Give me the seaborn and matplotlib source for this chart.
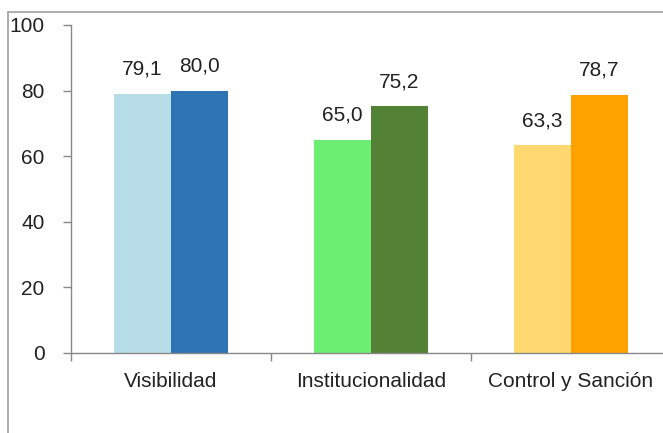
import matplotlib
matplotlib.use("Agg")
import matplotlib.pyplot as plt
import seaborn as sns
import pandas as pd
from matplotlib.lines import Line2D

categories = ["Visibilidad", "Institucionalidad", "Control y Sanción"]
series = ["A", "B"]
values_a = [79.1, 65.0, 63.3]
values_b = [80.0, 75.2, 78.7]
colors_a = ["#B7DDE8", "#6CEE72", "#FFD96F"]
colors_b = ["#2E74B5", "#538135", "#FFA200"]
yticks = [0, 20, 40, 60, 80, 100]

df = pd.DataFrame({
    "cat": categories * 2,
    "serie": [series[0]] * 3 + [series[1]] * 3,
    "val": values_a + values_b,
})

sns.set_theme(style="white")
plt.rcParams["font.family"] = ["Liberation Sans", "DejaVu Sans"]

FS = 15
TC = "#222222"

fig = plt.figure(figsize=(6.63, 4.33), dpi=100)
ax = fig.add_axes([71 / 663, 1 - 353 / 433, 600 / 663, 328 / 433])

sns.barplot(data=df, x="cat", y="val", hue="serie", order=categories,
            hue_order=series, width=0.57, ax=ax, legend=False,
            palette=["#cccccc", "#999999"], saturation=1)

bar_colors = colors_a + colors_b
bar_vals = values_a + values_b
for patch, c, v in zip(ax.patches, bar_colors, bar_vals):
    patch.set_facecolor(c)
    patch.set_edgecolor("none")
    ax.annotate(f"{v:.1f}".replace(".", ","),
                (patch.get_x() + patch.get_width() / 2, patch.get_height()),
                xytext=(0, 11), textcoords="offset points",
                ha="center", va="bottom", fontsize=FS, color=TC)

ax.set_ylim(0, 100)
ax.set_xlim(-0.5, 2.5)
ax.set_yticks(yticks)
ax.set_yticklabels([str(t) for t in yticks], fontsize=FS, color=TC)
ax.set_xticks(range(len(categories)))
ax.set_xticklabels(categories, fontsize=FS, color=TC)
ax.set_xticks([-0.5, 0.5, 1.5, 2.5], minor=True)
ax.tick_params(axis="x", which="major", length=0, pad=14)
ax.tick_params(axis="x", which="minor", length=6, width=1, color="#888888", direction="out", bottom=True)
ax.tick_params(axis="y", which="major", length=6, width=1, color="#888888", direction="out", left=True, pad=13)
ax.set_xlabel("")
ax.set_ylabel("")
for s in ["top", "right"]:
    ax.spines[s].set_visible(False)
for s in ["left", "bottom"]:
    ax.spines[s].set_color("#888888")
    ax.spines[s].set_linewidth(1)
ax.spines["left"].set_bounds(0, 100)

# outer frame (left and top, clipped in reference)
fig.add_artist(Line2D([8 / 663, 8 / 663], [0, 1 - 12 / 433], transform=fig.transFigure,
                      color="#a0a0a0", lw=1.2))
fig.add_artist(Line2D([8 / 663, 1], [1 - 12 / 433, 1 - 12 / 433], transform=fig.transFigure,
                      color="#a0a0a0", lw=1.2))

fig.savefig("out.png", dpi=100)
